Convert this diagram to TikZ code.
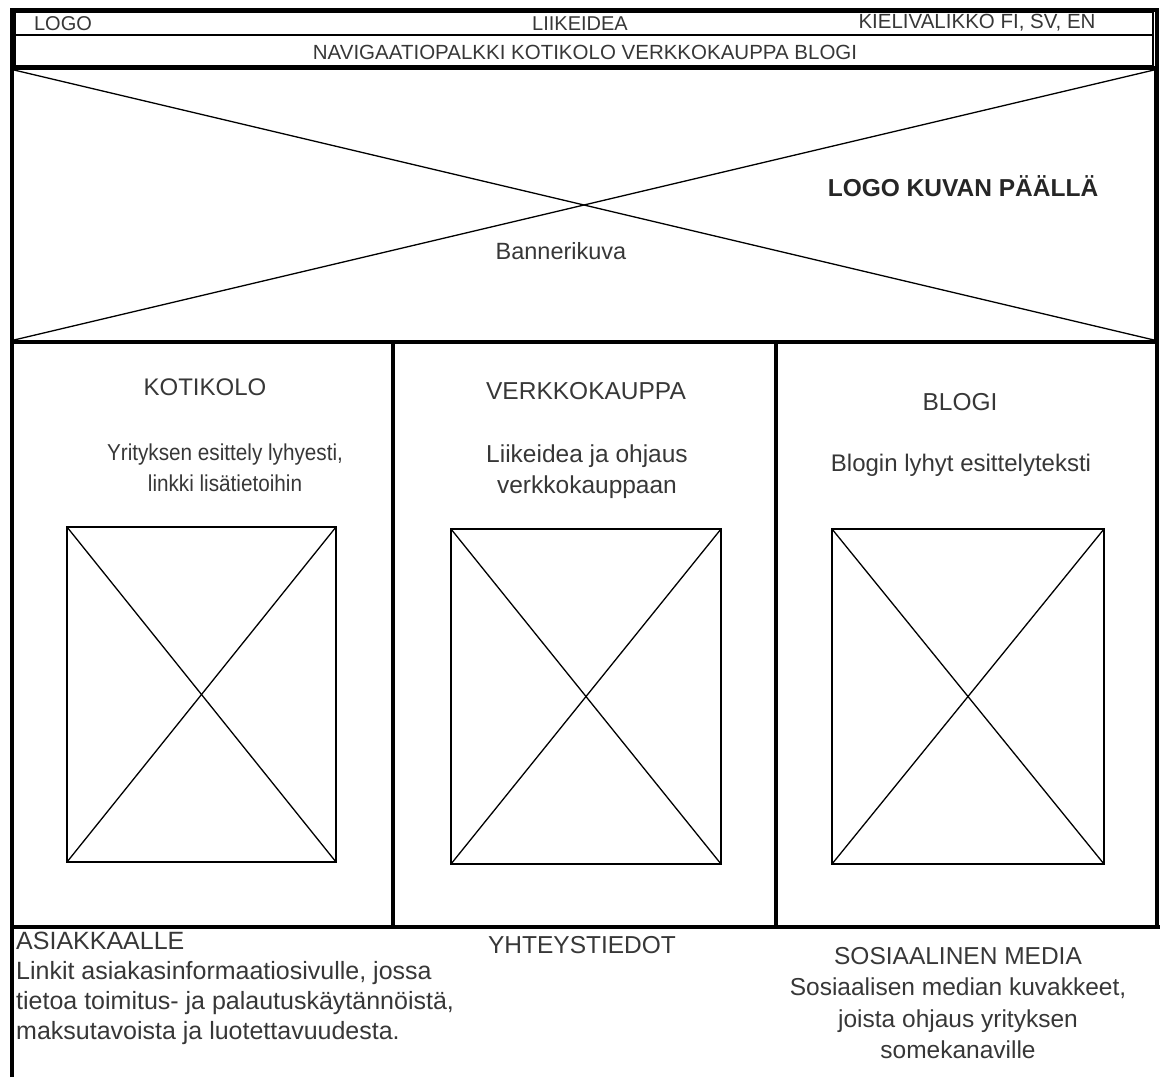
\documentclass[tikz,border=0pt]{standalone}
\usepackage{fontspec}
\setmainfont{Liberation Sans}
\newfontfamily\narrowfont[FakeStretch=0.9]{Liberation Sans}
\definecolor{txt}{RGB}{55,55,55}
\begin{document}
\begin{tikzpicture}[x=1pt,y=-1pt,
  thick frame/.style={line width=3.4pt,draw=black},
  thin box/.style={line width=1.8pt,draw=black},
  xline/.style={line width=1.3pt,draw=black},
  small/.style={font=\fontsize{20}{23}\selectfont,text=txt,inner sep=0pt},
  txtbase/.style={text=txt,inner sep=0pt,align=center},
  sz/.style={font=\fontsize{#1}{31}\selectfont}]
\useasboundingbox (0,0) rectangle (1160,1077);
% coordinates
\coordinate (tl) at (12,10);
\coordinate (tr) at (1157,10);
\coordinate (bl) at (12,1077);
\coordinate (fr) at (1157,927);
\coordinate (fl) at (12,927);
\coordinate (fre) at (1160,927);
% top bars
\draw[thin box] (15,12) rectangle (1153,35);
\draw[thin box] (15,35) rectangle (1153,66);
% banner
\draw[thick frame] (12,68) rectangle (1156,342);
\coordinate (b1) at (14,70); \coordinate (b2) at (1154,340);
\coordinate (b3) at (14,340); \coordinate (b4) at (1154,70);
\draw[xline] (b1) -- (b2);
\draw[xline] (b3) -- (b4);
% outer frame
\draw[thick frame] (bl) -- (tl) -- (tr) -- (fr);
\draw[thick frame] (fl) -- (fre);
% column separators
\coordinate (c1t) at (393,342); \coordinate (c1b) at (393,927);
\coordinate (c2t) at (776,342); \coordinate (c2b) at (776,927);
\draw[thick frame] (c1t) -- (c1b);
\draw[thick frame] (c2t) -- (c2b);
% image placeholders
\foreach \n/\xa/\ya/\xb/\yb in {i1/67/527/336/862, i2/451/529/721/864, i3/832/529/1104/864}{
  \draw[xline] (\xa,\ya) rectangle (\xb,\yb);
  \draw[xline] (\xa,\ya) -- (\xb,\yb);
  \draw[xline] (\xa,\yb) -- (\xb,\ya);
}
% texts
\node[small] (logo) at (63,24) {LOGO};
\node[small] (idea) at (580,24) {LIIKEIDEA};
\node[small,font=\fontsize{20.5}{23}\selectfont] (kieli) at (977,23) {KIELIVALIKKO FI, SV, EN};
\node[small,font=\fontsize{20.5}{23}\selectfont] (nav) at (585,52) {NAVIGAATIOPALKKI KOTIKOLO VERKKOKAUPPA BLOGI};
\node[inner sep=0pt,font=\fontsize{24.5}{28}\selectfont\bfseries,text=black!85] (logokuva) at (963,186) {LOGO KUVAN PÄÄLLÄ};
\node[txtbase,sz=23.5] (banner) at (561,251) {Bannerikuva};
\node[txtbase,sz=24] (h1) at (205,387) {KOTIKOLO};
\node[txtbase,font=\narrowfont\fontsize{23}{31}\selectfont] (d1) at (225,468) {Yrityksen esittely lyhyesti,\\linkki lisätietoihin};
\node[txtbase,sz=24.5] (h2) at (586,391) {VERKKOKAUPPA};
\node[txtbase,sz=24.5] (d2) at (587,472) {Liikeidea ja ohjaus\\verkkokauppaan};
\node[txtbase,sz=24.5] (h3) at (960,402) {BLOGI};
\node[txtbase,sz=24] (d3) at (961,465) {Blogin lyhyt esittelyteksti};
\node[txtbase,align=left,anchor=west,font=\fontsize{25}{30}\selectfont] (asiak) at (16,988) {ASIAKKAALLE\\Linkit asiakasinformaatiosivulle, jossa\\tietoa toimitus- ja palautuskäytännöistä,\\maksutavoista ja luotettavuudesta.};
\node[txtbase,sz=24.5] (yht) at (582,945) {YHTEYSTIEDOT};
\node[txtbase,font=\fontsize{24.5}{31.5}\selectfont] (some) at (958,1003) {SOSIAALINEN MEDIA\\Sosiaalisen median kuvakkeet,\\joista ohjaus yrityksen\\somekanaville};
\end{tikzpicture}
\end{document}
